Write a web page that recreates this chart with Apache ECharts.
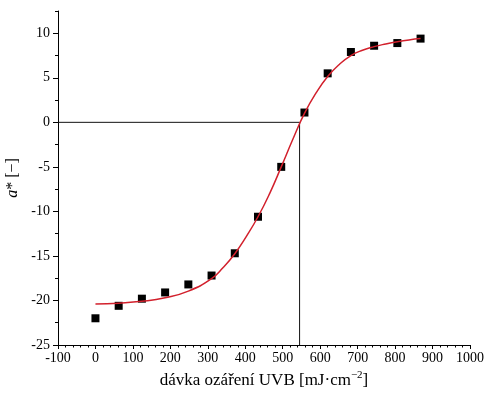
<!DOCTYPE html>
<html>
<head>
<meta charset="utf-8">
<script src="https://cdn.jsdelivr.net/npm/echarts@6/dist/echarts.min.js"></script>
<style>
  html, body { margin: 0; padding: 0; background: #fff; }
  #chart { width: 486px; height: 399px; }
</style>
</head>
<body>
<div id="chart"></div>
<script>
// measured points
const doseValues = [0, 62, 124, 186, 248, 310, 372, 434, 496, 558, 620, 682, 744, 806, 868];
const aStarValues = [-22.0, -20.6, -19.8, -19.1, -18.2, -17.2, -14.7, -10.6, -5.0, 1.1, 5.5, 7.9, 8.6, 8.9, 9.4];

// fitted curve
const fitDose = [0, 62, 124, 186, 248, 310, 341, 372, 403, 434, 465, 496, 527, 558, 589, 620, 651, 682, 713, 744, 775, 806, 837, 868];
const fitValues = [-20.4, -20.3, -20.1, -19.7, -18.95, -17.55, -16.3, -14.75, -12.8, -10.6, -8.0, -5.0, -1.9, 1.0, 3.3, 5.15, 6.5, 7.5, 8.1, 8.5, 8.8, 9.05, 9.25, 9.4];

// guide lines to the zero crossing
const guideDose = [-100, 545, 545];
const guideValues = [0, 0, -25];

const yMajorTicks = [-25, -20, -15, -10, -5, 0, 5, 10];
const yMinorTicks = [-22.5, -17.5, -12.5, -7.5, -2.5, 2.5, 7.5, 12.5];

const font = "Liberation Serif";

const chart = echarts.init(document.getElementById("chart"));

const toPairs = (xs, ys) => xs.map((x, i) => [x, ys[i]]);

chart.setOption({
  animation: false,
  grid: { left: 58, right: 16, top: 11, bottom: 54, outerBoundsMode: "none" },
  xAxis: {
    type: "value",
    min: -100,
    max: 1000,
    interval: 100,
    name: "{m|dávka ozáření UVB [mJ·cm}{sup|−2}{m|]}",
    nameLocation: "middle",
    nameGap: 24,
    nameTextStyle: {
      fontFamily: font,
      fontSize: 17,
      color: "#000",
      rich: {
        m: { fontFamily: font, fontSize: 17, lineHeight: 19, color: "#000", verticalAlign: "bottom" },
        sup: { fontFamily: font, fontSize: 11, lineHeight: 12, color: "#000", verticalAlign: "top" },
      },
    },
    axisLine: { onZero: false, lineStyle: { color: "#000", width: 1 } },
    axisTick: { length: 4, lineStyle: { color: "#000" } },
    minorTick: { show: true, splitNumber: 5, length: 2.5, lineStyle: { color: "#000" } },
    axisLabel: { fontFamily: font, fontSize: 14, color: "#000", margin: 6, formatter: (v) => String(v) },
    splitLine: { show: false },
  },
  yAxis: [
    {
      type: "value",
      min: -25,
      max: 12.5,
      interval: 5,
      name: "{it|a}* [−]",
      nameLocation: "middle",
      nameGap: 28,
      nameTextStyle: {
        fontFamily: font,
        fontSize: 16,
        color: "#000",
        rich: { it: { fontFamily: font, fontSize: 16, fontStyle: "italic", color: "#000" } },
      },
      axisLine: { show: true, onZero: false, lineStyle: { color: "#000", width: 1 } },
      axisTick: { show: true, length: 5, customValues: yMajorTicks, lineStyle: { color: "#000" } },
      axisLabel: { fontFamily: font, fontSize: 14, color: "#000", margin: 8, customValues: yMajorTicks },
      splitLine: { show: false },
    },
    {
      type: "value",
      min: -25,
      max: 12.5,
      position: "left",
      axisLine: { show: false, onZero: false },
      axisTick: { show: true, length: 3, customValues: yMinorTicks, lineStyle: { color: "#000" } },
      axisLabel: { show: false },
      splitLine: { show: false },
    },
  ],
  series: [
    {
      type: "line",
      data: toPairs(guideDose, guideValues),
      showSymbol: false,
      lineStyle: { color: "#111", width: 1 },
      z: 1,
      silent: true,
    },
    {
      type: "scatter",
      data: toPairs(doseValues, aStarValues),
      symbol: "rect",
      symbolSize: 8,
      itemStyle: { color: "#000", opacity: 1 },
      z: 2,
    },
    {
      type: "line",
      data: toPairs(fitDose, fitValues),
      smooth: true,
      showSymbol: false,
      lineStyle: { color: "#d2202c", width: 1.5 },
      z: 3,
    },
  ],
});
</script>
</body>
</html>
